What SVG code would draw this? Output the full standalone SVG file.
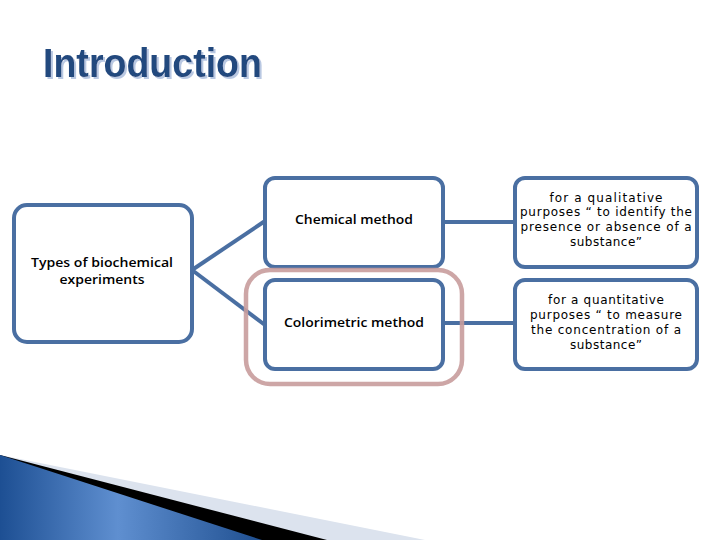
<svg xmlns="http://www.w3.org/2000/svg" width="720" height="540" viewBox="0 0 720 540">
<defs>
<linearGradient id="blueg" x1="0" y1="0" x2="1" y2="0">
<stop offset="0" stop-color="#1d4f93"/>
<stop offset="0.45" stop-color="#5f8fd0"/>
<stop offset="1" stop-color="#1f4f90"/>
</linearGradient>
<filter id="shadow" x="-5%" y="-20%" width="115%" height="150%">
<feDropShadow dx="2" dy="2" stdDeviation="0.6" flood-color="#b9c8e2" flood-opacity="1"/>
</filter>
<style>
.box{fill:#ffffff;stroke:#4a6fa2;stroke-width:4}
.conn{stroke:#4a6fa2;stroke-width:4;fill:none}
.lbl{font-family:"Open Sans","Liberation Sans",sans-serif;font-weight:600;font-size:13px;fill:#000;text-anchor:middle}
.lbl2{font-size:12.3px}
.desc{font-family:"DejaVu Sans","Liberation Sans",sans-serif;font-weight:normal;font-size:12px;fill:#000;text-anchor:middle}
.title{font-family:"Liberation Sans",sans-serif;font-weight:bold;font-size:40px}
</style>
</defs>
<rect width="720" height="540" fill="#ffffff"/>
<text class="title" x="43" y="77" fill="#23497e" filter="url(#shadow)" textLength="219" lengthAdjust="spacingAndGlyphs">Introduction</text>

<g id="connectors">
<line class="conn" x1="192" y1="270" x2="265" y2="221"/>
<line class="conn" x1="192" y1="270" x2="265" y2="325"/>
<line class="conn" x1="443" y1="222" x2="515" y2="222"/>
<line class="conn" x1="443" y1="323" x2="515" y2="323"/>
</g>

<g id="types">
<rect class="box" x="14" y="205" width="178" height="137" rx="13"/>
<text class="lbl lbl2" x="102" y="267" textLength="142" lengthAdjust="spacingAndGlyphs">Types of biochemical</text>
<text class="lbl lbl2" x="102" y="284" textLength="85" lengthAdjust="spacingAndGlyphs">experiments</text>
</g>

<g id="chemical">
<rect class="box" x="265" y="178" width="178" height="89" rx="10"/>
<text class="lbl" x="354" y="224" textLength="118" lengthAdjust="spacingAndGlyphs">Chemical method</text>
</g>

<g id="colorimetric">
<rect class="box" x="265" y="280" width="178" height="89" rx="10"/>
<text class="lbl" x="354" y="327" textLength="140" lengthAdjust="spacingAndGlyphs">Colorimetric method</text>
</g>

<g id="highlight">
<rect x="246" y="270" width="216" height="114" rx="24" fill="none" stroke="#c89c9c" stroke-width="4.5" opacity="0.9"/>
</g>

<g id="qualitative">
<rect class="box" x="515" y="178" width="182" height="89" rx="10"/>
<text class="desc" x="606" y="202" textLength="113" lengthAdjust="spacing">for a qualitative</text>
<text class="desc" x="606" y="216" textLength="172" lengthAdjust="spacing">purposes “ to identify the</text>
<text class="desc" x="606" y="231" textLength="171" lengthAdjust="spacing">presence or absence of a</text>
<text class="desc" x="606" y="246" textLength="72" lengthAdjust="spacing">substance”</text>
</g>

<g id="quantitative">
<rect class="box" x="515" y="280" width="182" height="89" rx="10"/>
<text class="desc" x="606" y="304" textLength="116" lengthAdjust="spacing">for a quantitative</text>
<text class="desc" x="606" y="319" textLength="152" lengthAdjust="spacing">purposes “ to measure</text>
<text class="desc" x="606" y="334" textLength="150" lengthAdjust="spacing">the concentration of a</text>
<text class="desc" x="606" y="349" textLength="72" lengthAdjust="spacing">substance”</text>
</g>

<g id="swoosh">
<polygon points="0,455 425,540 0,540" fill="#dce3ee"/>
<polygon points="0,455 327,540 0,540" fill="#000000"/>
<polygon points="0,455 262,540 0,540" fill="url(#blueg)"/>
</g>
</svg>
